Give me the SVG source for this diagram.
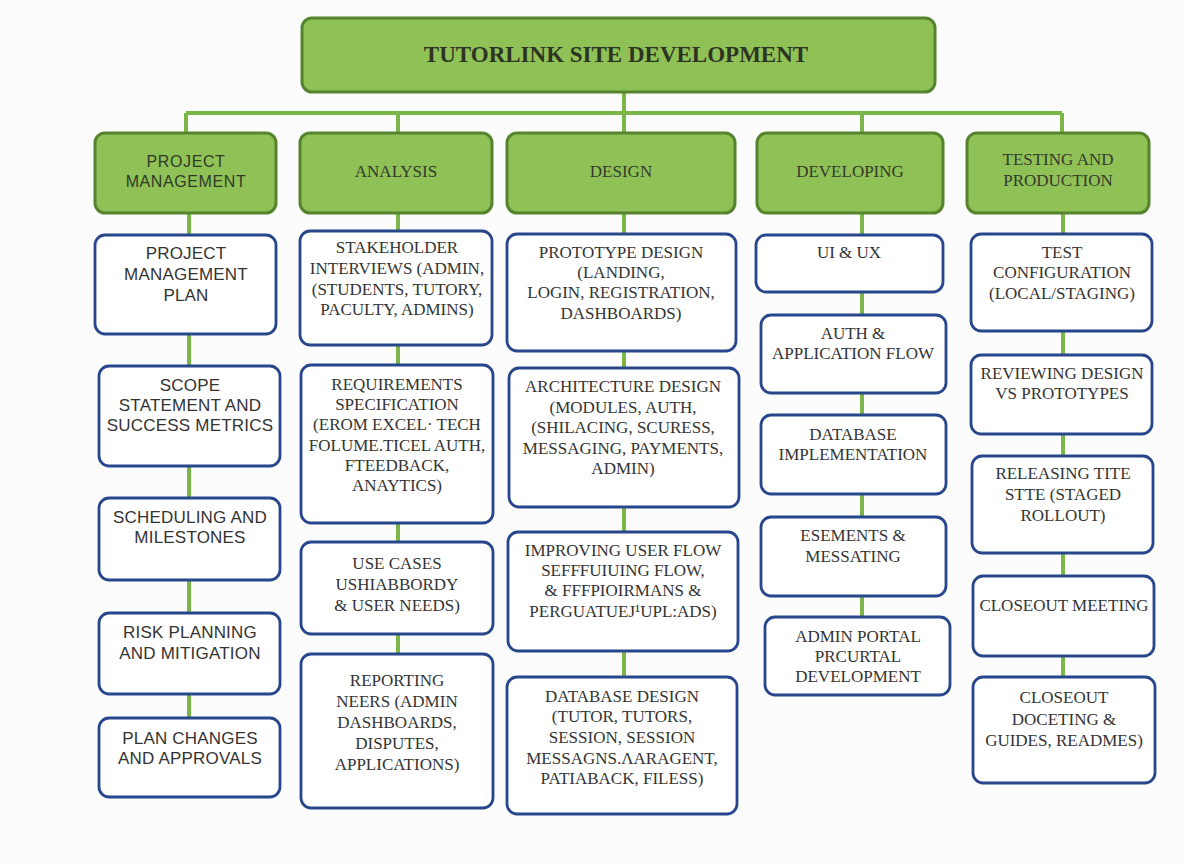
<svg xmlns="http://www.w3.org/2000/svg" width="1184" height="864" viewBox="0 0 1184 864">
<style>
.bg{fill:#fbfcfb}
.g{fill:#8fc157;stroke:#55832e;stroke-width:3}
.w{fill:#ffffff;stroke:#27468c;stroke-width:2.8}
.c{stroke:#7ab648;stroke-width:4;fill:none}
.s{font-family:"Liberation Serif","DejaVu Serif",serif;font-size:17px;fill:#333333;text-anchor:middle}
.h{font-family:"Liberation Serif","DejaVu Serif",serif;font-size:17px;fill:#333a2c;text-anchor:middle}
.a{font-family:"Liberation Sans","Arial",sans-serif;font-size:17px;letter-spacing:0.2px;fill:#333333;text-anchor:middle}
.ah{font-family:"Liberation Sans","Arial",sans-serif;font-size:16px;letter-spacing:0.6px;fill:#2f3a26;text-anchor:middle}
.t{font-family:"Liberation Serif","DejaVu Serif",serif;font-size:23px;font-weight:bold;fill:#2d3522;text-anchor:middle}
</style>
<rect class="bg" x="0" y="0" width="1184" height="864"/>
<g id="connectors">
<path class="c" d="M624 92V113M186 113H1062M186 113V133M398 113V133M624 113V133M862 113V133M1062 113V133"/>
<path class="c" d="M189 213V235M189 334V366M189 466V498M189 580V613M189 694V718"/>
<path class="c" d="M398 213V231M398 345V365M398 523V542M398 634V654"/>
<path class="c" d="M624 213V234M624 351V368M624 507V532M624 651V677"/>
<path class="c" d="M862 213V235M862 292V315M862 393V415M862 494V517M862 596V617"/>
<path class="c" d="M1063 213V234M1063 331V355M1063 434V456M1063 553V576M1063 656V677"/>
</g>
<g id="root"><rect class="g" x="302" y="18" width="633" height="74" rx="10"/><text class="t" x="616" y="62">TUTORLINK SITE DEVELOPMENT</text></g>
<g id="pm"><rect class="g" x="95" y="133" width="181" height="80" rx="10"/><text class="ah" x="186" y="167">PROJECT</text><text class="ah" x="186" y="187">MANAGEMENT</text></g>
<g id="analysis"><rect class="g" x="300" y="133" width="192" height="80" rx="10"/><text class="h" x="396" y="177">ANALYSIS</text></g>
<g id="design"><rect class="g" x="507" y="133" width="228" height="80" rx="10"/><text class="h" x="621" y="177">DESIGN</text></g>
<g id="developing"><rect class="g" x="757" y="133" width="186" height="80" rx="10"/><text class="h" x="850" y="177">DEVELOPING</text></g>
<g id="testing"><rect class="g" x="967" y="133" width="182" height="80" rx="10"/><text class="h" x="1058" y="165">TESTING AND</text><text class="h" x="1058" y="186">PRODUCTION</text></g>

<g id="pm1"><rect class="w" x="95" y="235" width="181" height="99" rx="10"/><text class="a" x="186" y="259">PROJECT</text><text class="a" x="186" y="280">MANAGEMENT</text><text class="a" x="186" y="301">PLAN</text></g>
<g id="pm2"><rect class="w" x="99" y="366" width="181" height="100" rx="10"/><text class="a" x="190" y="391">SCOPE</text><text class="a" x="190" y="411">STATEMENT AND</text><text class="a" x="190" y="431">SUCCESS METRICS</text></g>
<g id="pm3"><rect class="w" x="99" y="498" width="181" height="82" rx="10"/><text class="a" x="190" y="523">SCHEDULING AND</text><text class="a" x="190" y="543">MILESTONES</text></g>
<g id="pm4"><rect class="w" x="99" y="613" width="181" height="81" rx="10"/><text class="a" x="190" y="638">RISK PLANNING</text><text class="a" x="190" y="659">AND MITIGATION</text></g>
<g id="pm5"><rect class="w" x="99" y="718" width="181" height="79" rx="10"/><text class="a" x="190" y="744">PLAN CHANGES</text><text class="a" x="190" y="764">AND APPROVALS</text></g>

<g id="an1"><rect class="w" x="300" y="231" width="192" height="114" rx="10"/><text class="s" x="397" y="253">STAKEHOLDER</text><text class="s" x="397" y="274">INTERVIEWS (ADMIN,</text><text class="s" x="397" y="295">(STUDENTS, TUTORY,</text><text class="s" x="397" y="315">PACULTY, ADMINS)</text></g>
<g id="an2"><rect class="w" x="301" y="365" width="192" height="158" rx="10"/><text class="s" x="397" y="390">REQUIREMENTS</text><text class="s" x="397" y="410">SPECIFICATION</text><text class="s" x="397" y="430">(EROM EXCEL· TECH</text><text class="s" x="397" y="451">FOLUME.TICEL AUTH,</text><text class="s" x="397" y="471">FTEEDBACK,</text><text class="s" x="397" y="491">ANAYTICS)</text></g>
<g id="an3"><rect class="w" x="301" y="542" width="192" height="92" rx="10"/><text class="s" x="397" y="569">USE CASES</text><text class="s" x="397" y="590">USHIABBORDY</text><text class="s" x="397" y="611">&amp; USER NEEDS)</text></g>
<g id="an4"><rect class="w" x="301" y="654" width="192" height="154" rx="10"/><text class="s" x="397" y="686">REPORTING</text><text class="s" x="397" y="707">NEERS (ADMIN</text><text class="s" x="397" y="728">DASHBOARDS,</text><text class="s" x="397" y="749">DISPUTES,</text><text class="s" x="397" y="770">APPLICATIONS)</text></g>

<g id="de1"><rect class="w" x="507" y="234" width="229" height="117" rx="10"/><text class="s" x="621" y="258">PROTOTYPE DESIGN</text><text class="s" x="621" y="278">(LANDING,</text><text class="s" x="621" y="298">LOGIN, REGISTRATION,</text><text class="s" x="621" y="319">DASHBOARDS)</text></g>
<g id="de2"><rect class="w" x="509" y="368" width="230" height="139" rx="10"/><text class="s" x="623" y="392">ARCHITECTURE DESIGN</text><text class="s" x="623" y="413">(MODULES, AUTH,</text><text class="s" x="623" y="433">(SHILACING, SCURESS,</text><text class="s" x="623" y="454">MESSAGING, PAYMENTS,</text><text class="s" x="623" y="474">ADMIN)</text></g>
<g id="de3"><rect class="w" x="508" y="532" width="230" height="119" rx="10"/><text class="s" x="623" y="556">IMPROVING USER FLOW</text><text class="s" x="623" y="576">SEFFFUIUING FLOW,</text><text class="s" x="623" y="596">&amp; FFFPIOIRMANS &amp;</text><text class="s" x="623" y="617">PERGUATUEJ¹UPL:ADS)</text></g>
<g id="de4"><rect class="w" x="507" y="677" width="230" height="137" rx="10"/><text class="s" x="622" y="702">DATABASE DESIGN</text><text class="s" x="622" y="722">(TUTOR, TUTORS,</text><text class="s" x="622" y="743">SESSION, SESSION</text><text class="s" x="622" y="764">MESSAGNS.ΛARAGENT,</text><text class="s" x="622" y="784">PATIABACK, FILESS)</text></g>

<g id="dv1"><rect class="w" x="756" y="235" width="187" height="57" rx="10"/><text class="s" x="849" y="258">UI &amp; UX</text></g>
<g id="dv2"><rect class="w" x="761" y="315" width="185" height="78" rx="10"/><text class="s" x="853" y="339">AUTH &amp;</text><text class="s" x="853" y="359">APPLICATION FLOW</text></g>
<g id="dv3"><rect class="w" x="761" y="415" width="185" height="79" rx="10"/><text class="s" x="853" y="440">DATABASE</text><text class="s" x="853" y="460">IMPLEMENTATION</text></g>
<g id="dv4"><rect class="w" x="761" y="517" width="185" height="79" rx="10"/><text class="s" x="853" y="541">ESEMENTS &amp;</text><text class="s" x="853" y="562">MESSATING</text></g>
<g id="dv5"><rect class="w" x="765" y="617" width="185" height="78" rx="10"/><text class="s" x="858" y="642">ADMIN PORTAL</text><text class="s" x="858" y="662">PRCURTAL</text><text class="s" x="858" y="682">DEVELOPMENT</text></g>

<g id="ts1"><rect class="w" x="971" y="234" width="181" height="97" rx="10"/><text class="s" x="1062" y="258">TEST</text><text class="s" x="1062" y="278">CONFIGURATION</text><text class="s" x="1062" y="299">(LOCAL/STAGING)</text></g>
<g id="ts2"><rect class="w" x="971" y="355" width="181" height="79" rx="10"/><text class="s" x="1062" y="379">REVIEWING DESIGN</text><text class="s" x="1062" y="399">VS PROTOTYPES</text></g>
<g id="ts3"><rect class="w" x="972" y="456" width="181" height="97" rx="10"/><text class="s" x="1063" y="479">RELEASING TITE</text><text class="s" x="1063" y="500">STTE (STAGED</text><text class="s" x="1063" y="521">ROLLOUT)</text></g>
<g id="ts4"><rect class="w" x="973" y="576" width="181" height="80" rx="10"/><text class="s" x="1064" y="611">CLOSEOUT MEETING</text></g>
<g id="ts5"><rect class="w" x="973" y="677" width="182" height="106" rx="10"/><text class="s" x="1064" y="703">CLOSEOUT</text><text class="s" x="1064" y="725">DOCETING &amp;</text><text class="s" x="1064" y="746">GUIDES, READMES)</text></g>
</svg>
